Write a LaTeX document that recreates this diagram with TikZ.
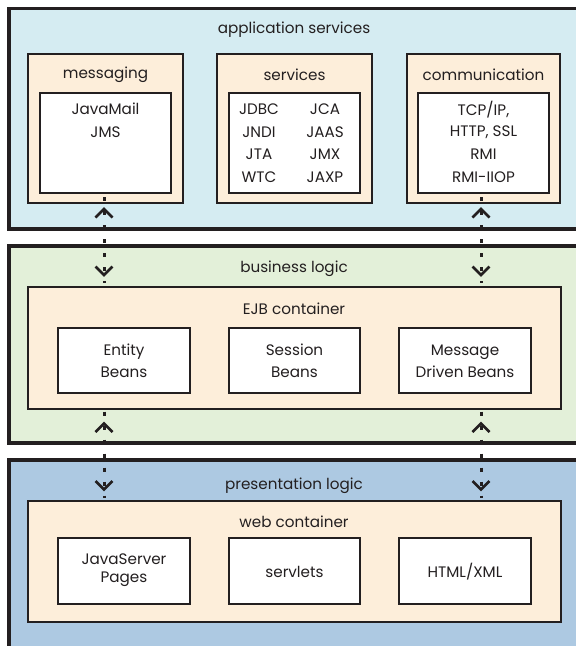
\documentclass[tikz,border=0pt]{standalone}
\usepackage{fontspec}
\setmainfont{Poppins}
\definecolor{appblue}{HTML}{D5ECF2}
\definecolor{bizgreen}{HTML}{E3F0D9}
\definecolor{presblue}{HTML}{ADC9E2}
\definecolor{tan}{HTML}{FDEEDA}
\definecolor{ink}{HTML}{231F20}
\tikzset{
  tier/.style={draw=ink, line width=3.2pt},
  group/.style={draw=ink, fill=tan, line width=1.4pt},
  item/.style={draw=ink, fill=white, line width=1.4pt},
  lbl/.style={font=\fontsize{15.2}{17}\selectfont, text=ink, inner sep=0pt},
  dots/.style={draw=ink, line width=3pt, dash pattern=on 4pt off 10pt},
  chev/.style={draw=ink, line width=2.8pt, miter limit=10},
}
\begin{document}
\begin{tikzpicture}[x=1pt, y=-1pt]
\useasboundingbox (0,0) rectangle (576,646);
\begin{scope}
\clip (0,0) rectangle (576,646);
% three tiers
\fill[appblue] (9,8.5) rectangle (590,229);
\draw[tier] (590,8.5) -- (9,8.5) -- (9,229) -- (590,229);
\fill[bizgreen] (9,246) rectangle (590,443);
\draw[tier] (590,246) -- (9,246) -- (9,443) -- (590,443);
\fill[presblue] (9,460) rectangle (590,655);
\draw[tier] (590,460) -- (9,460) -- (9,655);
\end{scope}

% application services
\node[lbl] (app) at (294,29.5) {application services};
\draw[group] (28,54) rectangle (183,203);
\draw[group] (217,54) rectangle (372,203);
\draw[group] (407,54) rectangle (560,203);
\node[lbl] (msg) at (105.5,75) {messaging};
\node[lbl] (srv) at (294.5,75) {services};
\node[lbl] (com) at (483.5,75) {communication};
\draw[item] (40,93) rectangle (171,193);
\draw[item] (229,93) rectangle (360,193);
\draw[item] (418,93) rectangle (549,193);
\node[lbl] (javamail) at (105.5,109) {JavaMail};
\node[lbl] (jms) at (105.5,132.5) {JMS};
\node[lbl] (jdbc) at (259,109.5) {JDBC};
\node[lbl] (jndi) at (259,132) {JNDI};
\node[lbl] (jta) at (259,154.5) {JTA};
\node[lbl] (wtc) at (259,177) {WTC};
\node[lbl] (jca) at (325,109.5) {JCA};
\node[lbl] (jaas) at (325,132) {JAAS};
\node[lbl] (jmx) at (325,154.5) {JMX};
\node[lbl] (jaxp) at (325,177) {JAXP};
\node[lbl] (tcp) at (483.5,109.5) {TCP/IP,};
\node[lbl] (http) at (483.5,132) {HTTP, SSL};
\node[lbl] (rmi) at (483.5,154.5) {RMI};
\node[lbl] (iiop) at (483.5,177) {RMI-IIOP};

% business logic
\node[lbl] (biz) at (294,269) {business logic};
\draw[group] (28,287) rectangle (561,409);
\node[lbl] (ejb) at (294,309) {EJB container};
\draw[item] (58,328) rectangle (190,393);
\draw[item] (229,328) rectangle (360,393);
\draw[item] (399,328) rectangle (531,393);
\node[lbl, align=center] (entity) at (124,361) {Entity\\[5pt]Beans};
\node[lbl, align=center] (session) at (294.5,361) {Session\\[5pt]Beans};
\node[lbl, align=center] (mdb) at (465,361) {Message\\[5pt]Driven Beans};

% presentation logic
\node[lbl] (pres) at (294,486) {presentation logic};
\draw[group] (28,501) rectangle (561,622);
\node[lbl] (web) at (294,522) {web container};
\draw[item] (58,538) rectangle (190,604);
\draw[item] (229,538) rectangle (360,604);
\draw[item] (399,538) rectangle (531,604);
\node[lbl, align=center] (jsp) at (124,570.5) {JavaServer\\[1pt]Pages};
\node[lbl] (servlets) at (294.5,572) {servlets};
\node[lbl] (html) at (465,572) {HTML/XML};

% two-way links between tiers
\foreach \x/\n in {104/l,481/r} {
  \coordinate (up1\n) at (\x,209);
  \coordinate (dn1\n) at (\x,275);
  \coordinate (up2\n) at (\x,423.5);
  \coordinate (dn2\n) at (\x,489.5);
  \draw[dots] ([yshift=12pt]up1\n) -- ([yshift=-8pt]dn1\n);
  \draw[dots] ([yshift=12pt]up2\n) -- ([yshift=-8pt]dn2\n);
  \draw[chev] ([shift={(-8.5,8.5)}]up1\n) -- (up1\n) -- ([shift={(8.5,8.5)}]up1\n);
  \draw[chev] ([shift={(-8.5,-8.5)}]dn1\n) -- (dn1\n) -- ([shift={(8.5,-8.5)}]dn1\n);
  \draw[chev] ([shift={(-8.5,8.5)}]up2\n) -- (up2\n) -- ([shift={(8.5,8.5)}]up2\n);
  \draw[chev] ([shift={(-8.5,-8.5)}]dn2\n) -- (dn2\n) -- ([shift={(8.5,-8.5)}]dn2\n);
}
\end{tikzpicture}
\end{document}
